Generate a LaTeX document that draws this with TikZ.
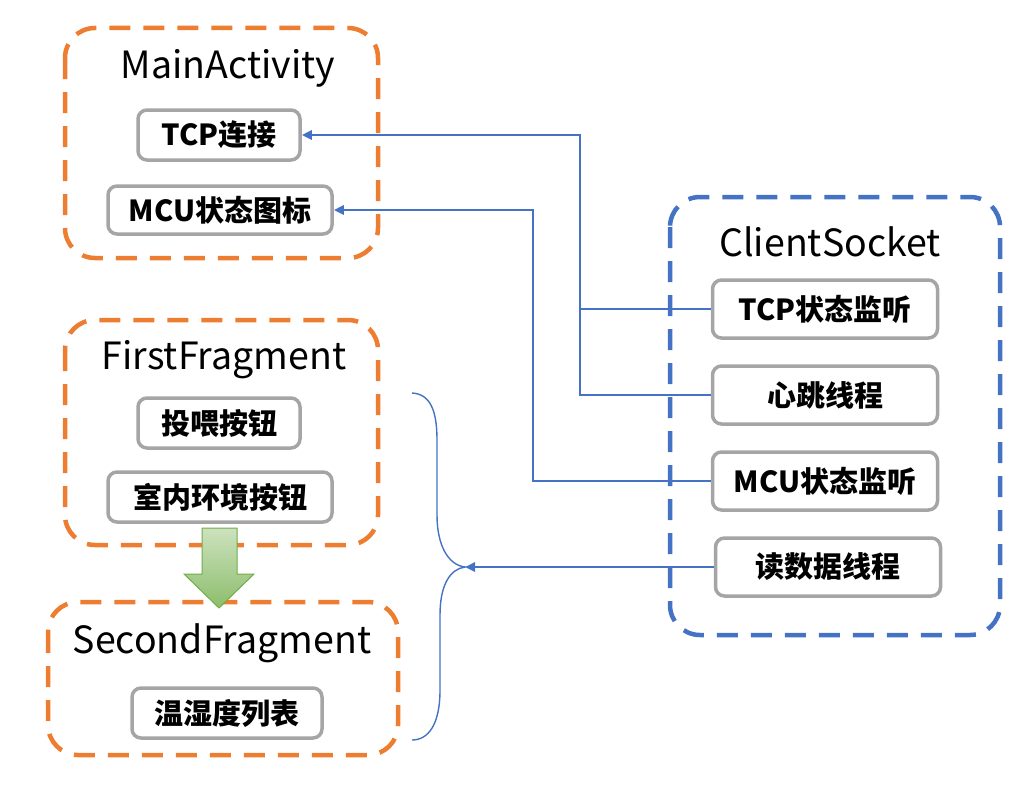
\documentclass[tikz,border=0pt]{standalone}
\usepackage{fontspec}
\setmainfont{Noto Sans CJK SC}
\usetikzlibrary{calc,arrows.meta}
\definecolor{boxorange}{RGB}{237,125,49}
\definecolor{linkblue}{RGB}{68,114,196}
\definecolor{itemgray}{RGB}{165,165,165}
\definecolor{arrowgreen}{RGB}{112,173,71}

\begin{document}
\begin{tikzpicture}[x=1pt,y=-1pt,
		group/.style={line width=4.5pt, dash pattern=on 21pt off 13pt, rounded corners=30pt},
		title/.style={font=\fontsize{37.5}{42}\selectfont, inner sep=0pt},
		item/.style={draw=itemgray, line width=3.5pt, rounded corners=9pt, fill=white, inner sep=0pt,
			minimum height=50pt, font=\bfseries\fontsize{29}{32}\selectfont},
		link/.style={draw=linkblue, line width=2.6pt},
		linkarrow/.style={link, -{Triangle[length=10pt,width=9pt]}}]
		%%%%% START %%%%%
		\useasboundingbox (0,0) rectangle (1016,792);
		
		% left side groups
		\draw[group, draw=boxorange] (65,28) rectangle (378,258);
		\node[title] (mainact) at (228,68) {MainActivity};
		\node[item, minimum width=162pt] (tcpconn) at (219,135) {TCP连接};
		\node[item, minimum width=224pt, minimum height=48pt] (mcuicon) at (220,210) {MCU状态图标};
		
		\draw[group, draw=boxorange] (65,320) rectangle (378,545);
		\node[title] (firstfrag) at (224,360) {FirstFragment};
		\node[item, minimum width=162pt] (feedbtn) at (219,423) {投喂按钮};
		\node[item, minimum width=224pt] (envbtn) at (220,497) {室内环境按钮};
		
		\draw[group, draw=boxorange] (48,602) rectangle (398,755);
		\node[title] (secondfrag) at (222,643) {SecondFragment};
		\node[item, minimum width=190pt] (humlist) at (227,713) {温湿度列表};
		
		% switch arrow
		\draw[draw=arrowgreen, line width=1pt, top color=arrowgreen!35, bottom color=arrowgreen!80]
			(202,528) -- (237,528) -- (237,574) -- (254,574) -- (219,608) -- (184,574) -- (202,574) -- cycle;
		
		% right side group
		\draw[group, draw=linkblue] (670,197) rectangle (1000,635);
		\node[title] (clientsock) at (830,242) {ClientSocket};
		\node[item, minimum width=225pt, minimum height=58pt] (tcpwatch) at (825,309) {TCP状态监听};
		\node[item, minimum width=225pt, minimum height=58pt] (beat) at (825,395) {心跳线程};
		\node[item, minimum width=225pt, minimum height=58pt] (mcuwatch) at (825,481) {MCU状态监听};
		\node[item, minimum width=225pt, minimum height=58pt] (readdata) at (828,567) {读数据线程};
		
		% links
		\coordinate (busA) at (580,0);
		\coordinate (busB) at (533,0);
		\coordinate (bracetip) at (465,567);
		\draw[linkarrow] (tcpwatch.west) -- (tcpwatch.west -| busA) |- (tcpconn.east);
		\draw[link] (beat.west) -- (beat.west -| busA) -- (tcpwatch.west -| busA);
		\draw[linkarrow] (mcuwatch.west) -- (mcuwatch.west -| busB) |- (mcuicon.east);
		\draw[linkarrow] (readdata.west) -- (bracetip);
		
		% brace
		\draw[draw=linkblue, line width=1.4pt] (412,393) .. controls (430,394) and (437,410) .. (437,440)
			-- (437,515) .. controls (437,545) and (448,565) .. (bracetip)
			.. controls (450,569) and (440,585) .. (440,615)
			-- (440,690) .. controls (440,725) and (428,740) .. (412,740);
		%%%%% END %%%%%
	\end{tikzpicture}
\end{document}
